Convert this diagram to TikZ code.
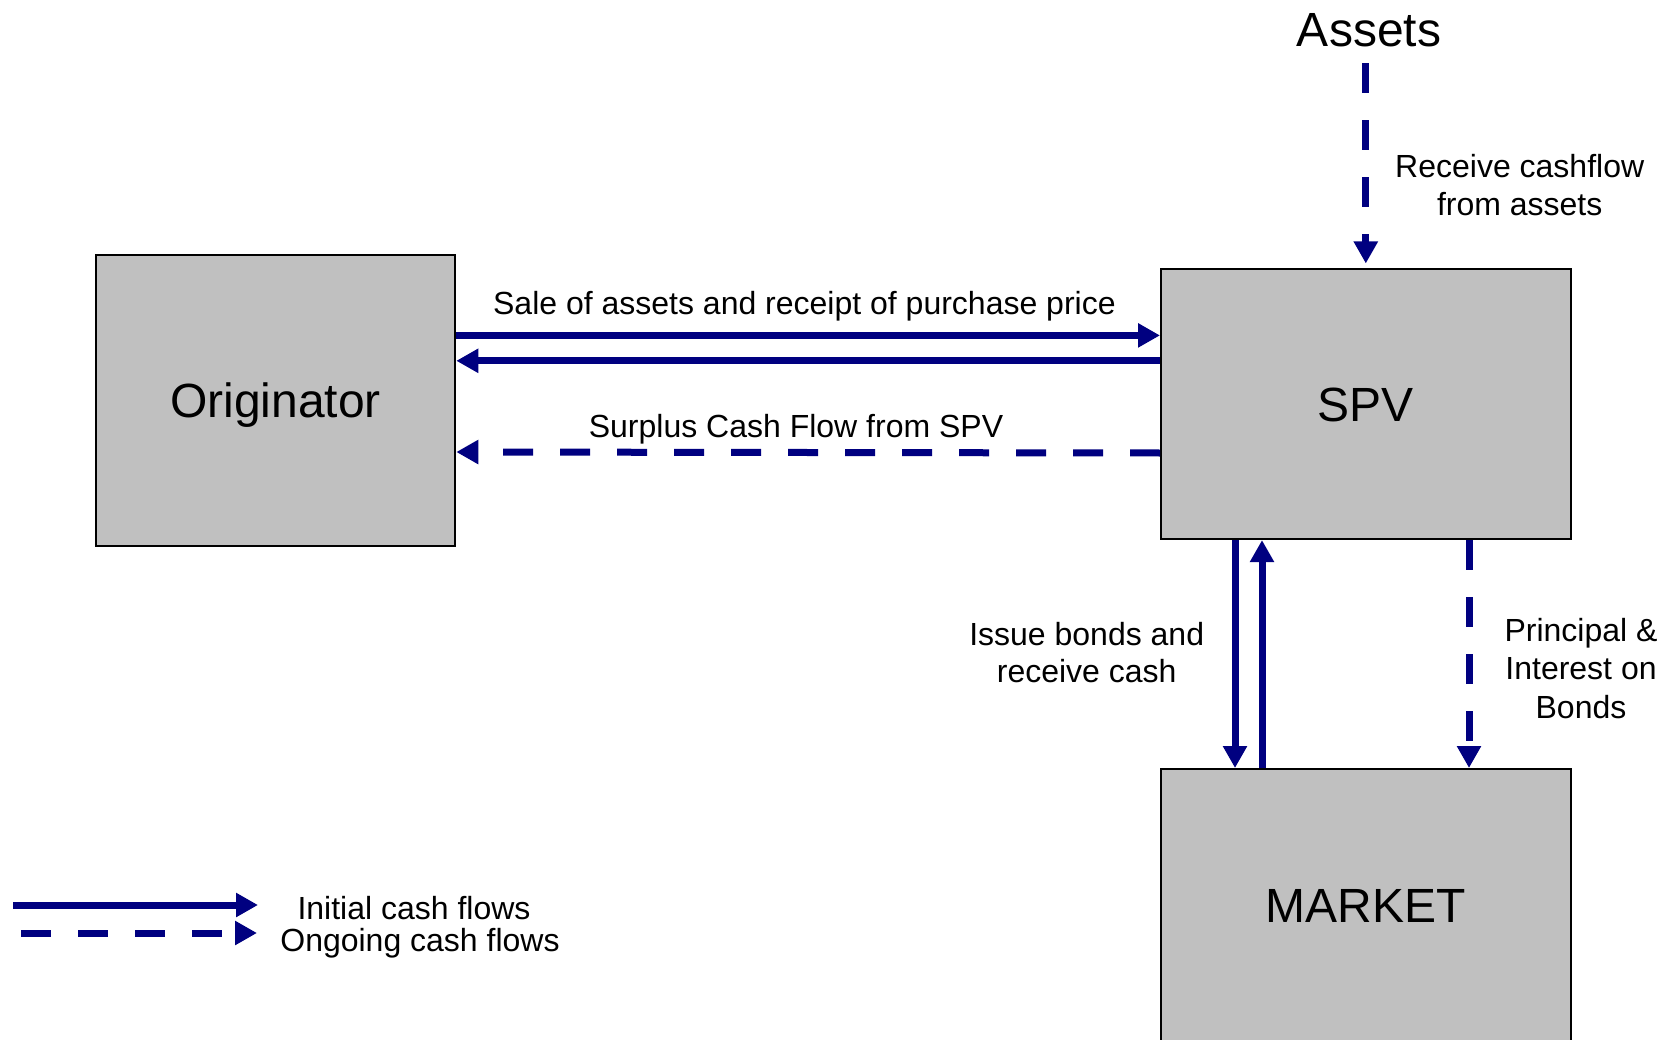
\documentclass[tikz,border=0pt]{standalone}
\usepackage{fontspec}
\setmainfont{Liberation Sans}
\usetikzlibrary{arrows.meta,calc}
\definecolor{flowblue}{HTML}{000080}
\definecolor{boxgray}{HTML}{C0C0C0}

\begin{document}
\begin{tikzpicture}[x=1pt,y=-1pt,
  party/.style={draw=black, line width=2pt, fill=boxgray, inner sep=0pt,
    font=\fontsize{48}{56}\selectfont, text height=34.4pt, text depth=0pt},
  cash/.style={draw=flowblue, line width=7pt,
    -{Triangle[length=22pt,width=23pt]}},
  later/.style={cash, dash pattern=on 30pt off 27pt},
  lbl/.style={font=\fontsize{32}{37.5}\selectfont, align=center, inner sep=0pt, anchor=base},
]
\useasboundingbox (0,0) rectangle (1664,1040);

% the three parties
\node[party, minimum width=359.8pt, minimum height=290.8pt] (orig) at (275.4,400.1) {Originator};
\node[party, minimum width=409.6pt, minimum height=269.6pt] (spv) at (1365.8,404.3) {SPV};
\node[party, minimum width=409.6pt, minimum height=280pt, text depth=8pt] (market) at (1365.8,909) {MARKET};

% source of the collateral
\node[font=\fontsize{48}{56}\selectfont, inner sep=0pt, anchor=base, outer ysep=16pt] (assets) at (1369,47) {Assets};

% flows between originator and SPV
\draw[cash] (orig.east |- 0,335.4) -- (spv.west |- 0,335.4);
\draw[cash] (spv.west |- 0,360.8) -- (orig.east |- 0,360.8);
\draw[later] (spv.west |- 0,453) -- (orig.east |- 0,452);

% flows between SPV and market
\draw[cash] (spv.south -| 1235,0) -- (market.north -| 1235,0);
\draw[cash] (market.north -| 1262,0) -- (spv.south -| 1262,0);
\draw[later] (spv.south -| 1469,0) -- (market.north -| 1469,0);

% flow from the assets into the SPV
\draw[later] (assets.south -| spv.north) -- ($(spv.north)+(0,-5)$);

% flow labels (multi-line labels sit on the baseline of their last line)
\node[lbl] (lsale) at (804.4,315) {Sale of assets and receipt of purchase price};
\node[lbl] (lsurplus) at (796,437) {Surplus Cash Flow from SPV};
\node[lbl] (lreceive) at (1519.7,215.5) {Receive cashflow\\from assets};
\node[lbl] (lissue) at (1086.7,682.5) {Issue bonds and\\receive cash};
\node[lbl, font=\fontsize{32}{38.2}\selectfont] (lprincipal) at (1581,718) {Principal \&\\Interest on\\Bonds};

% legend
\coordinate (solidA) at (13,905);
\coordinate (solidB) at (258,905);
\coordinate (dashA) at (21,933);
\coordinate (dashB) at (257,933);
\draw[cash] (solidA) -- (solidB);
\draw[later] (dashA) -- (dashB);
\node[lbl] (linitial) at (414,919) {Initial cash flows};
\node[lbl] (longoing) at (420,951.5) {Ongoing cash flows};
\end{tikzpicture}
\end{document}
